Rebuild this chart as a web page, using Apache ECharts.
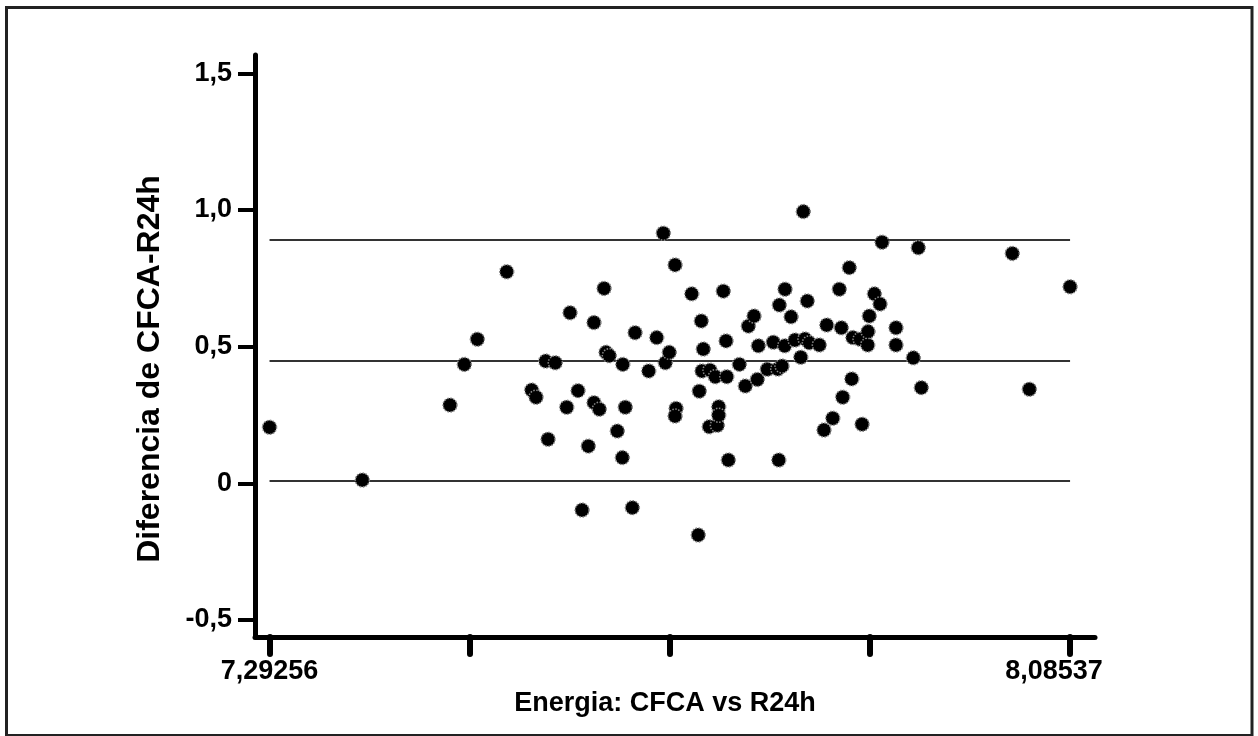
<!DOCTYPE html>
<html>
<head>
<meta charset="utf-8">
<script src="https://cdn.jsdelivr.net/npm/echarts@6/dist/echarts.min.js"></script>
<style>
  html, body { margin: 0; padding: 0; background: #fff; }
  #chart { width: 1258px; height: 736px; }
</style>
</head>
<body>
<div id="chart"></div>
<script>
// Energia: media (CFCA, R24h) vs diferencia
const energiaMedia = [
  7.2926, 7.3845, 7.4713, 7.4855, 7.4984, 7.5275, 7.5522, 7.5565, 7.5661, 7.5684,
  7.5756, 7.5869, 7.5902, 7.5981, 7.6021, 7.6083, 7.6139, 7.6139, 7.6192, 7.6239,
  7.6258, 7.6291, 7.6370, 7.6420, 7.6424, 7.6449, 7.6519, 7.6546, 7.6681, 7.6760,
  7.6826, 7.6846, 7.6885, 7.6942, 7.6952, 7.6942, 7.7107, 7.7172, 7.7182, 7.7202,
  7.7209, 7.7222, 7.7281, 7.7288, 7.7341, 7.7361, 7.7374, 7.7374, 7.7420, 7.7447,
  7.7454, 7.7470, 7.7579, 7.7638, 7.7668, 7.7724, 7.7757, 7.7767, 7.7856, 7.7915,
  7.7959, 7.7969, 7.7975, 7.8001, 7.8028, 7.8031, 7.8091, 7.8130, 7.8187, 7.8212,
  7.8229, 7.8252, 7.8272, 7.8371, 7.8417, 7.8444, 7.8504, 7.8569, 7.8589, 7.8602,
  7.8668, 7.8692, 7.8702, 7.8774, 7.8794, 7.8850, 7.8853, 7.8866, 7.8916, 7.8972,
  7.8992, 7.9130, 7.9130, 7.9302, 7.9351, 7.9381, 8.0282, 8.0451, 8.0854
];
const diferencia = [
  0.205, 0.012, 0.286, 0.435, 0.527, 0.774, 0.341, 0.315, 0.447, 0.161,
  0.441, 0.278, 0.624, 0.339, -0.098, 0.136, 0.588, 0.295, 0.271, 0.713,
  0.479, 0.467, 0.191, 0.094, 0.435, 0.278, -0.089, 0.551, 0.411, 0.533,
  0.915, 0.441, 0.479, 0.799, 0.274, 0.246, 0.693, -0.189, 0.337, 0.594,
  0.411, 0.491, 0.207, 0.414, 0.390, 0.212, 0.280, 0.249, 0.703, 0.521,
  0.390, 0.085, 0.435, 0.356, 0.575, 0.612, 0.380, 0.503, 0.417, 0.516,
  0.418, 0.085, 0.652, 0.429, 0.503, 0.710, 0.609, 0.524, 0.461, 0.994,
  0.528, 0.667, 0.514, 0.506, 0.195, 0.579, 0.238, 0.710, 0.569, 0.315,
  0.789, 0.382, 0.533, 0.527, 0.216, 0.506, 0.555, 0.612, 0.693, 0.656,
  0.882, 0.569, 0.506, 0.459, 0.862, 0.350, 0.841, 0.344, 0.719
];
// media de la diferencia y limites de concordancia
const limites = [0.890, 0.447, 0.008];

const yTickValues = [-0.5, 0, 0.5, 1.0, 1.5];
const yTickLabels = ['-0,5', '0', '0,5', '1,0', '1,5'];
const xTickLabels = ['7,29256', '8,08537'];

const xMin = Math.min(...energiaMedia);
const xMax = Math.max(...energiaMedia);
const xTicks = [0, 1, 2, 3, 4].map(i => xMin + (xMax - xMin) * i / 4);

const font = 'Liberation Sans, Arial, sans-serif';

const chart = echarts.init(document.getElementById('chart'));

const lineSeries = limites.map(v => ({
  type: 'line',
  data: [[xMin, v], [xMax, v]],
  symbol: 'none',
  silent: true,
  z: 1,
  lineStyle: { color: '#333', width: 2 }
}));

chart.setOption({
  animation: false,
  backgroundColor: '#fff',
  graphic: [{
    type: 'rect',
    shape: { x: 6.5, y: 7.5, width: 1245.5, height: 728 },
    style: { fill: 'none', stroke: '#222', lineWidth: 3 }
  }],
  grid: { left: 255, right: 163, top: 55, bottom: 99 },
  xAxis: {
    type: 'value',
    min: 7.2782,
    max: 8.1101,
    name: 'Energia: CFCA vs R24h',
    nameLocation: 'middle',
    nameGap: 40,
    nameTextStyle: { fontFamily: font, fontWeight: 'bold', fontSize: 27, color: '#000', padding: [0, 20, 0, 0] },
    splitLine: { show: false },
    axisLine: { onZero: false, lineStyle: { color: '#000', width: 5 } },
    axisTick: { customValues: xTicks, length: 17, lineStyle: { color: '#000', width: 6, cap: 'round' } },
    axisLabel: {
      customValues: [xMin, xMax],
      margin: 21,
      fontFamily: font, fontWeight: 'bold', fontSize: 27, color: '#000',
      formatter: v => (Math.abs(v - xMin) < 1e-6 ? xTickLabels[0] : '{r|' + xTickLabels[1] + '}'),
      rich: { r: { fontFamily: font, fontWeight: 'bold', fontSize: 27, color: '#000', padding: [0, 32, 0, 0] } }
    }
  },
  yAxis: {
    type: 'value',
    min: -0.5623,
    max: 1.5669,
    name: 'Diferencia de CFCA-R24h',
    nameLocation: 'middle',
    nameGap: 89,
    nameTextStyle: { fontFamily: font, fontWeight: 'bold', fontSize: 32, color: '#000', padding: [0, 46, 0, 0] },
    splitLine: { show: false },
    axisLine: { show: true, lineStyle: { color: '#000', width: 5, cap: 'round' } },
    axisTick: { customValues: yTickValues, length: 17, lineStyle: { color: '#000', width: 4 } },
    axisLabel: {
      customValues: yTickValues,
      margin: 23,
      fontFamily: font, fontWeight: 'bold', fontSize: 27, color: '#000',
      formatter: v => yTickLabels[yTickValues.findIndex(t => Math.abs(t - v) < 1e-6)]
    }
  },
  series: [
    ...lineSeries,
    {
      type: 'scatter',
      data: energiaMedia.map((x, i) => [x, diferencia[i]]),
      symbolSize: 14,
      z: 3,
      itemStyle: { color: '#000', opacity: 1, borderColor: '#888', borderWidth: 1.5, borderType: 'dotted' }
    }
  ]
});
</script>
</body>
</html>
